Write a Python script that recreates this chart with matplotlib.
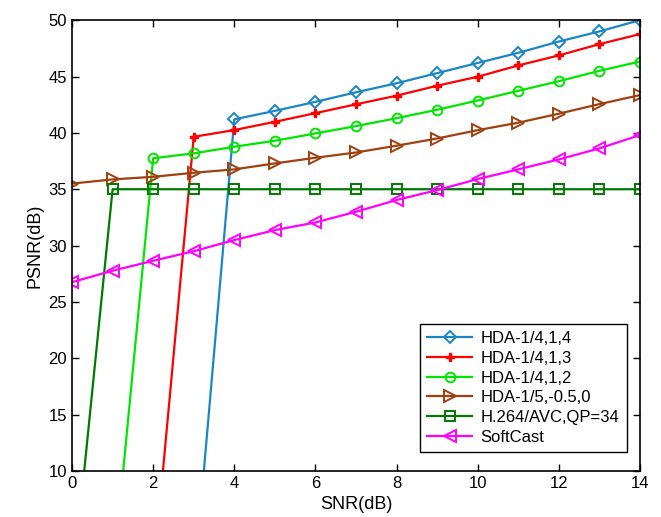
import numpy as np
import matplotlib
matplotlib.use('Agg')
import matplotlib.pyplot as plt

plt.rcParams['font.family'] = ['Liberation Sans', 'DejaVu Sans']

snr = [0, 1, 2, 3, 4, 5, 6, 7, 8, 9, 10, 11, 12, 13, 14]

## HDA curves start from a cliff (value ~0 one step before the knee)
snr_h4 = [3, 4, 5, 6, 7, 8, 9, 10, 11, 12, 13, 14]
psnr_h4 = [-0.4, 41.2, 41.95, 42.75, 43.6, 44.4, 45.3, 46.2, 47.1, 48.1, 49.0, 50.0]

snr_h3 = [2, 3, 4, 5, 6, 7, 8, 9, 10, 11, 12, 13, 14]
psnr_h3 = [0.6, 39.65, 40.25, 40.98, 41.75, 42.53, 43.3, 44.18, 44.98, 45.98, 46.87, 47.87, 48.76]

snr_h2 = [1, 2, 3, 4, 5, 6, 7, 8, 9, 10, 11, 12, 13, 14]
psnr_h2 = [0.2, 37.75, 38.18, 38.77, 39.3, 39.95, 40.6, 41.3, 42.05, 42.87, 43.73, 44.58, 45.5, 46.33]

psnr_h5 = [35.5, 35.87, 36.1, 36.46, 36.76, 37.29, 37.79, 38.26, 38.86, 39.5, 40.24, 40.9, 41.7, 42.55, 43.35]

psnr_avc = [-0.7, 35, 35, 35, 35, 35, 35, 35, 35, 35, 35, 35, 35, 35, 35]

psnr_sc = [26.76, 27.77, 28.65, 29.5, 30.49, 31.37, 32.05, 33.0, 34.04, 34.92, 35.9, 36.76, 37.64, 38.62, 39.8]

fig = plt.figure(figsize=(6.61, 5.17), dpi=100)
ax = fig.add_axes([0.109, 0.089, 0.859, 0.872])

lw = 1.6
ms = 7
ax.plot(snr_h4, psnr_h4, color='#1a86c8', marker='D', mfc='none', mew=1.4, ms=6, lw=lw, label='HDA-1/4,1,4')
ax.plot(snr_h3, psnr_h3, color='#ff0000', marker='P', ms=5.5, lw=lw, label='HDA-1/4,1,3')
ax.plot(snr_h2, psnr_h2, color='#00e600', marker='o', mfc='none', mew=1.4, ms=ms, lw=lw, label='HDA-1/4,1,2')
ax.plot(snr, psnr_h5, color='#a0400f', marker='>', mfc='none', mew=1.4, ms=8, lw=lw, label='HDA-1/5,-0.5,0')
ax.plot(snr, psnr_avc, color='#007a00', marker='s', mfc='none', mew=1.4, ms=ms, lw=lw, label='H.264/AVC,QP=34')
ax.plot(snr, psnr_sc, color='#ff00ff', marker='<', mfc='none', mew=1.4, ms=8, lw=lw, label='SoftCast')

ax.set_xlim(0, 14)
ax.set_ylim(10, 50)
ax.set_xticks(np.arange(0, 15, 2))
ax.set_yticks(np.arange(10, 51, 5))
ax.tick_params(direction='in', top=True, right=True, labelsize=12, length=5, width=1)
for s in ax.spines.values():
    s.set_linewidth(1.2)
ax.set_xlabel('SNR(dB)', fontsize=13)
ax.set_ylabel('PSNR(dB)', fontsize=13)

leg = ax.legend(loc='lower right', fontsize=12, fancybox=False, edgecolor='black',
                framealpha=1, handlelength=2.7, handletextpad=0.5, borderpad=0.45,
                labelspacing=0.28, borderaxespad=0, bbox_to_anchor=(0.977, 0.042))
leg.get_frame().set_linewidth(1.0)

fig.savefig('out.png', dpi=100)
